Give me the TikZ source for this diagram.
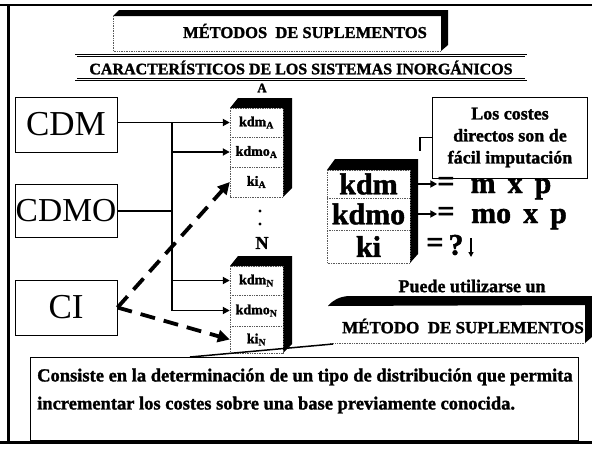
\documentclass[tikz,border=0pt]{standalone}
\usepackage{fontspec}
\setmainfont{Liberation Serif}[BoldFeatures={FakeBold=1.5}]
\usetikzlibrary{arrows.meta}
\begin{document}
\begin{tikzpicture}[x=1pt,y=-1pt,
  bigbox/.style={draw,line width=1pt,minimum width=102pt,minimum height=55pt,inner sep=0pt,font=\fontsize{35}{35}\selectfont},
  rowA/.style={minimum width=53pt,inner sep=0pt,font=\bfseries\fontsize{14}{14}\selectfont},
  rowR/.style={minimum width=83pt,inner sep=0pt,font=\bfseries\fontsize{30}{30}\selectfont},
  eqtxt/.style={inner sep=0pt,font=\bfseries\fontsize{30}{30}\selectfont},
  lowtxt/.style={eqtxt,text height=0.47em,text depth=0.22em,anchor=base},
  conn/.style={line width=1.8pt,-{Triangle[length=7pt,width=7pt]}},
  plain/.style={line width=1.8pt},
  dconn/.style={line width=3.8pt,dash pattern=on 15pt off 9pt,-{Triangle[length=12pt,width=12pt]}},
  faint/.style={draw=black!65,densely dotted,line width=0.7pt},
  ttl/.style={inner sep=0pt,font=\bfseries\fontsize{16.5}{16.5}\selectfont},
  txt/.style={inner sep=0pt,font=\bfseries\fontsize{18}{18}\selectfont}]
\useasboundingbox (0,0) rectangle (592,450);
% frame
\draw[line width=1.5pt] (0,5) -- (592,5);
\draw[line width=3pt] (8,5) -- (8,443);
\draw[line width=3pt] (0,442) -- (592,442);

% title banner
\fill (113,16) -- (119,10) -- (448,10) -- (448,45) -- (441,51) -- (441,16) -- cycle;
\draw[faint] (113,16) -- (113,51) -- (441,51);
\node[ttl] (title) at (305,31) {MÉTODOS\ \ DE SUPLEMENTOS};

% characteristics box
\node[draw,line width=0.8pt,double,double distance=1.2pt,minimum width=450pt,minimum height=24pt,inner sep=0pt,ttl,font=\bfseries\fontsize{16}{16}\selectfont] (car) at (301,67.5) {CARACTERÍSTICOS DE LOS SISTEMAS INORGÁNICOS};

% left boxes
\node[bigbox] (cdm) at (66,124.5) {CDM};
\node[bigbox,minimum height=53pt,font=\fontsize{33.5}{33.5}\selectfont] (cdmo) at (66,211) {CDMO};
\node[bigbox] (ci) at (66,307.5) {CI};

% stack A
\node[inner sep=0pt,font=\bfseries\fontsize{13}{13}\selectfont] (labA) at (262,88) {A};
\fill (230,108) -- (238,98) -- (292,98) -- (292,188) -- (283,197) -- (283,108) -- cycle;
\draw[faint] (230,108) rectangle (283,197);
\draw[faint] (230,137) -- (283,137);
\draw[faint] (230,167) -- (283,167);
\node[rowA,minimum height=29pt] (kdmA) at (256.5,122.5) {kdm\textsubscript{A}};
\node[rowA,minimum height=30pt] (kdmoA) at (256.5,152) {kdmo\textsubscript{A}};
\node[rowA,minimum height=30pt] (kiA) at (256.5,182) {ki\textsubscript{A}};

% dots and N
\fill (260,211) circle (1.6pt);
\fill (260,224) circle (1.6pt);
\node[inner sep=0pt,font=\bfseries\fontsize{18}{18}\selectfont] (labN) at (262,243) {N};

% stack N
\fill (230,266) -- (238,256) -- (292,256) -- (292,344) -- (283,353) -- (283,266) -- cycle;
\draw[faint] (230,266) rectangle (283,353);
\draw[faint] (230,295) -- (283,295);
\draw[faint] (230,326) -- (283,326);
\node[rowA,minimum height=29pt] (kdmN) at (256.5,280.5) {kdm\textsubscript{N}};
\node[rowA,minimum height=31pt] (kdmoN) at (256.5,310.5) {kdmo\textsubscript{N}};
\node[rowA,minimum height=27pt] (kiN) at (256.5,339.5) {ki\textsubscript{N}};

% connectors left
\coordinate (jA) at (172,123);
\draw[conn] (cdm.east |- kdmA.west) -- (kdmA.west);
\draw[plain] (jA) -- (jA |- kdmoN.west);
\draw[conn] (jA |- kdmoA.west) -- (kdmoA.west);
\draw[plain] (cdmo.east) -- (cdmo.east -| jA);
\draw[conn] (jA |- kdmN.west) -- (kdmN.west);
\draw[conn] (jA |- kdmoN.west) -- (kdmoN.west);
\draw[dconn] (ci.east) -- (kiA.west);
\draw[dconn] (ci.east) -- (kiN.west);

% right stack
\fill (327,170) -- (335,159) -- (418,159) -- (418,254) -- (410,263) -- (410,170) -- cycle;
\draw[faint] (327,170) rectangle (410,263);
\draw[faint] (327,198) -- (410,198);
\draw[faint] (327,230) -- (410,230);
\node[rowR,minimum height=28pt] (kdm) at (368.5,184) {kdm};
\node[rowR,minimum height=32pt] (kdmo) at (368.5,214) {kdmo};
\node[rowR,minimum height=33pt] (ki) at (368.5,246.5) {ki};

% callout
\node[draw,line width=1pt,minimum width=155pt,minimum height=81pt,inner sep=0pt,align=center,font=\bfseries\fontsize{18}{22}\selectfont] (callout) at (510,137.5) {Los costes\\directos son de\\fácil imputación};
\coordinate (hook) at (420,151);
\draw[line width=1.5pt] (callout.west) -| (hook);

% equations
\coordinate (r1) at (418,184);
\coordinate (r2) at (418,214);
\node[eqtxt] (eq1) at (446,184) {=};
\node[lowtxt] (mxp) at (511,193) {m\hspace{0.4em}x\hspace{0.4em}p};
\node[eqtxt] (eq2) at (446,214) {=};
\node[lowtxt] (moxp) at (519,223) {mo\hspace{0.4em}x\hspace{0.4em}p};
\draw[conn] (r1) -- (eq1.west);
\draw[conn] (r2) -- (eq2.west);
\node[eqtxt] (eq3) at (435,245) {=};
\node[eqtxt] (q) at (456,245) {?};
\coordinate (d1) at (471,238);
\coordinate (d2) at (471,257);
\draw[line width=1.5pt,-{Triangle[length=5pt,width=5pt]}] (d1) -- (d2);

% puede
\node[txt] (puede) at (472,286) {Puede utilizarse un};

% banner 2
\fill (328,306) .. controls (333,300) and (339,297) .. (348,296) -- (592,296) -- (592,337) -- (585,343) -- (585,305) -- cycle;
\draw[faint] (330,343) -- (585,343);
\node[ttl,font=\bfseries\fontsize{17}{17}\selectfont] (met) at (463,326) {MÉTODO\ \ DE SUPLEMENTOS};

% consiste box
\node[draw,line width=1pt,minimum width=548pt,minimum height=83pt,inner sep=0pt,anchor=north west] (cons) at (30,357) {};
\node[anchor=west,align=left,inner sep=0pt,font=\bfseries\fontsize{18.5}{28}\selectfont] (constxt) at (37,391) {Consiste en la determinación de un tipo de distribución que permita\\incrementar los costes sobre una base previamente conocida.};
\coordinate (p1) at (190,357);
\coordinate (p2) at (333,344);
\draw[line width=1.5pt] (p1) -- (p2);
\end{tikzpicture}
\end{document}
